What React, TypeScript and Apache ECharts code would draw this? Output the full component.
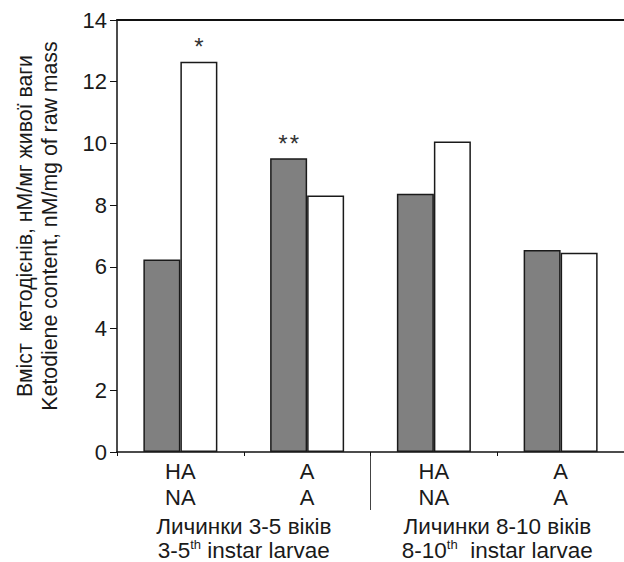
import React, { useEffect, useRef } from "react";
import * as echarts from "echarts";

const categories = ["HA\nNA", "A\nA", "HA\nNA", "A\nA"];
const groupLabels = [
  "{a|Личинки 3-5 віків}\n{a|3-5}{sup|th}{a| instar larvae}",
  "{a|Личинки 8-10 віків}\n{a|8-10}{sup|th}{a|  instar larvae}",
];
const grayValues = [6.24, 9.52, 8.37, 6.55];
const whiteValues = [12.65, 8.31, 10.06, 6.46];
const grayMarks = ["", "*\u200A*", "", ""];
const whiteMarks = ["*", "", "", ""];
const yTicks = { min: 0, max: 14, interval: 2 };
const yNameLines = [
  "Вміст  кетодієнів, нМ/мг живої ваги",
  "Ketodiene content, nM/mg of raw mass",
];

const FONT = "'Liberation Sans', Arial, sans-serif";
const TXT = "#1a1a1a";

export default function App() {
  const ref = useRef<HTMLDivElement>(null);
  useEffect(() => {
    document.body.style.margin = "0";
    const chart = echarts.init(ref.current!, null, { renderer: "svg" });
    const mk = (vals: number[], marks: string[]) =>
      vals.map((v, i) =>
        marks[i]
          ? {
              value: v,
              label: {
                show: true,
                position: "top",
                distance: 3,
                formatter: marks[i],
                fontSize: 24,
                color: "#333",
                fontFamily: FONT,
              },
            }
          : v
      );
    const option: any = {
      animation: false,
      textStyle: { fontFamily: FONT },
      grid: {
        left: 117,
        right: 0,
        top: 20,
        bottom: 110,
        containLabel: false,
        outerBoundsMode: "none",
      },
      xAxis: [
        {
          type: "category",
          data: categories,
          position: "bottom",
          axisLine: { show: true, lineStyle: { color: "#111", width: 1.5 } },
          axisTick: { show: true, length: 4, lineStyle: { color: "#111" } },
          axisLabel: { fontSize: 22, color: TXT, lineHeight: 25.6, margin: 7, fontFamily: FONT },
        },
        {
          type: "category",
          data: groupLabels,
          position: "bottom",
          offset: 58,
          axisLine: { show: false },
          axisTick: { show: false },
          axisLabel: {
            margin: 4,
            interval: 0,
            rich: {
              a: { fontSize: 22.5, lineHeight: 24, color: TXT, fontFamily: FONT },
              sup: { fontSize: 13, lineHeight: 24, verticalAlign: "top", color: TXT, fontFamily: FONT, padding: [0, 0, 5, 0] },
            },
          },
        },
        {
          type: "category",
          data: categories,
          position: "top",
          axisLine: { show: true, lineStyle: { color: "#111", width: 2 } },
          axisTick: { show: false },
          axisLabel: { show: false },
        },
      ],
      yAxis: {
        type: "value",
        min: yTicks.min,
        max: yTicks.max,
        interval: yTicks.interval,
        name: yNameLines.join("\n"),
        nameLocation: "middle",
        nameRotate: 90,
        nameGap: 55,
        nameTextStyle: {
          fontSize: 21.3,
          color: TXT,
          lineHeight: 25,
          fontFamily: FONT,
          padding: [0, 0, 0, 20],
        },
        axisLine: { show: true, lineStyle: { color: "#111", width: 1.5 } },
        axisTick: { show: true, length: 7, lineStyle: { color: "#111" } },
        splitLine: { show: false },
        axisLabel: { fontSize: 22, color: TXT, margin: 10, fontFamily: FONT },
      },
      series: [
        {
          type: "bar",
          xAxisIndex: 0,
          data: mk(grayValues, grayMarks),
          barWidth: 37,
          barGap: "0%",
          itemStyle: { color: "#808080", borderColor: "#1a1a1a", borderWidth: 1.5 },
        },
        {
          type: "bar",
          xAxisIndex: 0,
          data: mk(whiteValues, whiteMarks),
          barWidth: 37,
          barGap: "0%",
          itemStyle: { color: "#ffffff", borderColor: "#1a1a1a", borderWidth: 1.5 },
        },
      ],
    };
    chart.setOption(option);
    const x1 = chart.convertToPixel({ xAxisIndex: 0 }, 1) as number;
    const x2 = chart.convertToPixel({ xAxisIndex: 0 }, 2) as number;
    const y0 = chart.convertToPixel({ yAxisIndex: 0 }, 0) as number;
    const sx = (x1 + x2) / 2;
    chart.setOption({
      graphic: [
        {
          type: "line",
          shape: { x1: sx, y1: y0, x2: sx, y2: y0 + 58 },
          style: { stroke: "#444", lineWidth: 1 },
        },
      ],
    });
    return () => chart.dispose();
  }, []);
  return <div ref={ref} style={{ width: 624, height: 562 }} />;
}
